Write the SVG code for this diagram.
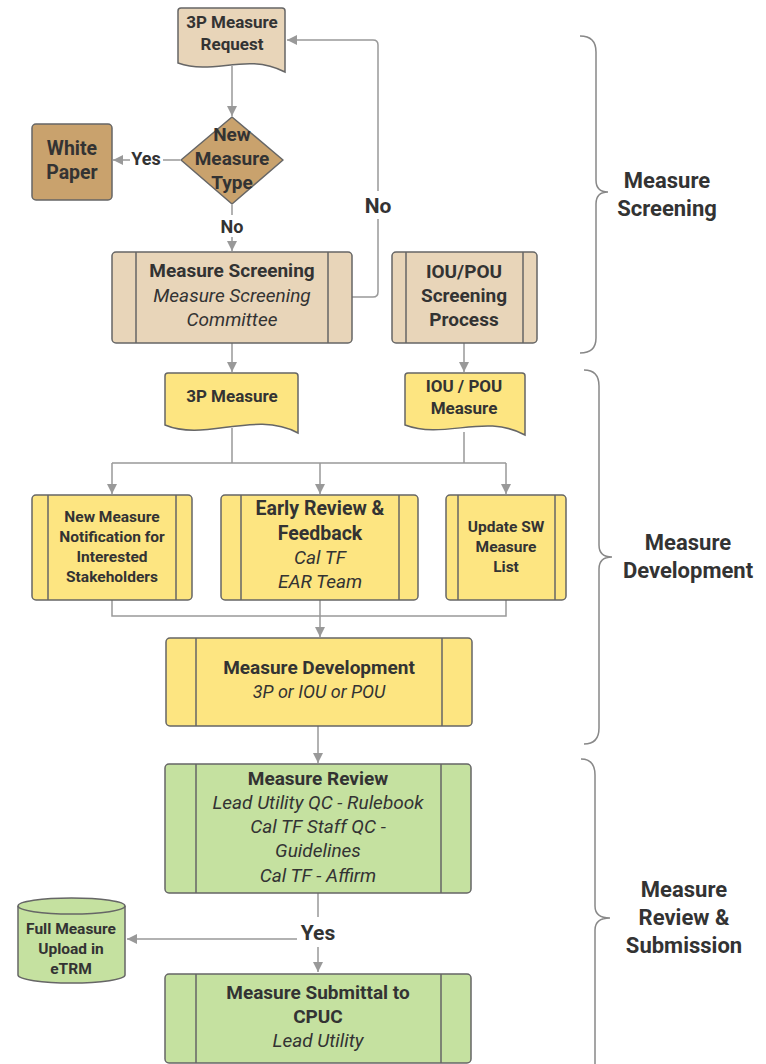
<svg xmlns="http://www.w3.org/2000/svg" width="766" height="1064" viewBox="0 0 766 1064">
<defs>
<marker id="ah" viewBox="0 0 10 10" refX="10" refY="5" markerWidth="10" markerHeight="10" markerUnits="userSpaceOnUse" orient="auto">
<path d="M0,0 L10,5 L0,10 Z" fill="#999"/>
</marker>
<style>
.b{font-family:Roboto,"Liberation Sans",sans-serif;font-weight:bold;fill:#333;text-anchor:middle}
.i{font-family:Roboto,"Liberation Sans",sans-serif;font-style:italic;fill:#333;text-anchor:middle}
.c{fill:none;stroke:#999;stroke-width:1.5}
.a{marker-end:url(#ah)}
.s{stroke:#666;stroke-width:1.5}
.tan{fill:#e8d5b9}
.brown{fill:#c9a26d}
.yel{fill:#fde581}
.grn{fill:#c5e1a0}
.br{fill:none;stroke:#888;stroke-width:1.5}
.lb{fill:#fff}
</style>
</defs>
<rect width="766" height="1064" fill="#fff"/>

<g id="connectors">
<path class="c a" d="M232,66 V116"/>
<path class="c a" d="M180,160 H113"/>
<path class="c a" d="M232,205 V251"/>
<path class="c a" d="M352,297 H373 Q378,297 378,292 V45 Q378,40 373,40 H287"/>
<path class="c a" d="M232,343 V372"/>
<path class="c a" d="M464,343 V372"/>
<path class="c" d="M232,428 V463 M464,432 V463 M112,463 H506"/>
<path class="c a" d="M112,463 V494"/>
<path class="c a" d="M320,463 V494"/>
<path class="c a" d="M506,463 V494"/>
<path class="c" d="M112,600 V616 H506 V600"/>
<path class="c a" d="M320,600 V637"/>
<path class="c a" d="M318,726 V763"/>
<path class="c a" d="M318,893 V972"/>
<path class="c a" d="M318,939 H127"/>
<rect class="lb" x="130" y="148" width="33" height="20"/>
<text class="b" x="146" y="164.5" font-size="18">Yes</text>
<rect class="lb" x="216" y="215" width="32" height="22"/>
<text class="b" x="232" y="232.5" font-size="18">No</text>
<rect class="lb" x="362" y="191" width="32" height="28"/>
<text class="b" x="378" y="212.5" font-size="21">No</text>
<rect class="lb" x="297" y="917" width="42" height="30"/>
<text class="b" x="318" y="939.5" font-size="21">Yes</text>
</g>

<g id="request">
<path class="tan s" d="M181,8 H282 Q285,8 285,11 V72 C245,52 215,76 178,63 V11 Q178,8 181,8 Z"/>
<text class="b" x="232" y="28" font-size="17">3P Measure</text>
<text class="b" x="232" y="50" font-size="17">Request</text>
</g>

<g id="decision">
<path class="brown s" d="M232,117 L283,160 L232,204 L181,160 Z" stroke-linejoin="round"/>
<text class="b" x="232" y="140.5" font-size="19">New</text>
<text class="b" x="232" y="164.5" font-size="19">Measure</text>
<text class="b" x="232" y="188.5" font-size="19">Type</text>
</g>

<g id="whitepaper">
<rect class="brown s" x="32" y="124" width="80" height="76" rx="4"/>
<text class="b" x="72" y="154.5" font-size="19.5">White</text>
<text class="b" x="72" y="178.5" font-size="19.5">Paper</text>
</g>

<g id="screening">
<rect class="tan s" x="112" y="252" width="240" height="91" rx="4"/>
<path class="s" d="M136,252 V343 M328,252 V343"/>
<text class="b" x="232" y="276.5" font-size="19">Measure Screening</text>
<text class="i" x="232" y="301.5" font-size="19">Measure Screening</text>
<text class="i" x="232" y="325.5" font-size="19">Committee</text>
</g>

<g id="iouscreening">
<rect class="tan s" x="392" y="252" width="145" height="91" rx="4"/>
<path class="s" d="M406,252 V343 M523,252 V343"/>
<text class="b" x="464" y="277.5" font-size="19">IOU/POU</text>
<text class="b" x="464" y="301.5" font-size="19">Screening</text>
<text class="b" x="464" y="325.5" font-size="19">Process</text>
</g>

<g id="measure3p">
<path class="yel s" d="M168,373 H295 Q298,373 298,376 V433 C255,410 205,442 165,425 V376 Q165,373 168,373 Z"/>
<text class="b" x="232" y="402" font-size="17">3P Measure</text>
</g>

<g id="measureiou">
<path class="yel s" d="M408,373 H522 Q525,373 525,376 V435 C485,413 445,440 405,425 V376 Q405,373 408,373 Z"/>
<text class="b" x="464" y="392" font-size="17">IOU / POU</text>
<text class="b" x="464" y="414" font-size="17">Measure</text>
</g>

<g id="notification">
<rect class="yel s" x="32" y="495" width="160" height="105" rx="4"/>
<path class="s" d="M48,495 V600 M176,495 V600"/>
<text class="b" x="112" y="521.5" font-size="15.5">New Measure</text>
<text class="b" x="112" y="541.5" font-size="15.5">Notification for</text>
<text class="b" x="112" y="561.5" font-size="15.5">Interested</text>
<text class="b" x="112" y="581.5" font-size="15.5">Stakeholders</text>
</g>

<g id="earlyreview">
<rect class="yel s" x="221" y="495" width="197" height="105" rx="4"/>
<path class="s" d="M241,495 V600 M399,495 V600"/>
<text class="b" x="320" y="515" font-size="19.5">Early Review &amp;</text>
<text class="b" x="320" y="540" font-size="19.5">Feedback</text>
<text class="i" x="320" y="564" font-size="19">Cal TF</text>
<text class="i" x="320" y="588" font-size="19">EAR Team</text>
</g>

<g id="updatesw">
<rect class="yel s" x="446" y="495" width="120" height="105" rx="4"/>
<path class="s" d="M458,495 V600 M555,495 V600"/>
<text class="b" x="506" y="531.5" font-size="15.5">Update SW</text>
<text class="b" x="506" y="551.5" font-size="15.5">Measure</text>
<text class="b" x="506" y="571.5" font-size="15.5">List</text>
</g>

<g id="development">
<rect class="yel s" x="166" y="638" width="306" height="88" rx="4"/>
<path class="s" d="M196,638 V726 M442,638 V726"/>
<text class="b" x="319" y="673.5" font-size="19">Measure Development</text>
<text class="i" x="319" y="697.5" font-size="18">3P or IOU or POU</text>
</g>

<g id="review">
<rect class="grn s" x="165" y="764" width="306" height="129" rx="4"/>
<path class="s" d="M196,764 V893 M441,764 V893"/>
<text class="b" x="318" y="784.5" font-size="19">Measure Review</text>
<text class="i" x="318" y="808.5" font-size="19">Lead Utility QC - Rulebook</text>
<text class="i" x="318" y="832.5" font-size="19">Cal TF Staff QC -</text>
<text class="i" x="318" y="856.5" font-size="19">Guidelines</text>
<text class="i" x="318" y="881.5" font-size="19">Cal TF - Affirm</text>
</g>

<g id="etrm">
<path class="grn s" d="M18,906 A53.5,8 0 0 1 125,906 V975 A53.5,8 0 0 1 18,975 Z"/>
<path class="s" fill="none" d="M18,906 A53.5,8 0 0 0 125,906"/>
<text class="b" x="71" y="933.5" font-size="15.5">Full Measure</text>
<text class="b" x="71" y="953.5" font-size="15.5">Upload in</text>
<text class="b" x="71" y="973.5" font-size="15.5">eTRM</text>
</g>

<g id="submittal">
<rect class="grn s" x="165" y="974" width="306" height="89" rx="4"/>
<path class="s" d="M196,974 V1063 M441,974 V1063"/>
<text class="b" x="318" y="998.5" font-size="19">Measure Submittal to</text>
<text class="b" x="318" y="1022.5" font-size="19">CPUC</text>
<text class="i" x="318" y="1046.5" font-size="19">Lead Utility</text>
</g>

<g id="phase-screening">
<path class="br" d="M580,36 Q596,36 596,52 V180 Q596,192 608,192 Q596,192 596,204 V338 Q596,353 580,353"/>
<text class="b" x="667" y="187.5" font-size="22">Measure</text>
<text class="b" x="667" y="215.5" font-size="22">Screening</text>
</g>

<g id="phase-development">
<path class="br" d="M584,370 Q599,370 599,386 V545 Q599,557 612,557 Q599,557 599,569 V728 Q599,744 584,744"/>
<text class="b" x="688" y="549.5" font-size="22">Measure</text>
<text class="b" x="688" y="577.5" font-size="22">Development</text>
</g>

<g id="phase-review">
<path class="br" d="M581,759 Q595,759 595,775 V906 Q595,918 610,918 Q595,918 595,930 V1064"/>
<text class="b" x="684" y="896.5" font-size="22">Measure</text>
<text class="b" x="684" y="924.5" font-size="22">Review &amp;</text>
<text class="b" x="684" y="952.5" font-size="22">Submission</text>
</g>
</svg>
